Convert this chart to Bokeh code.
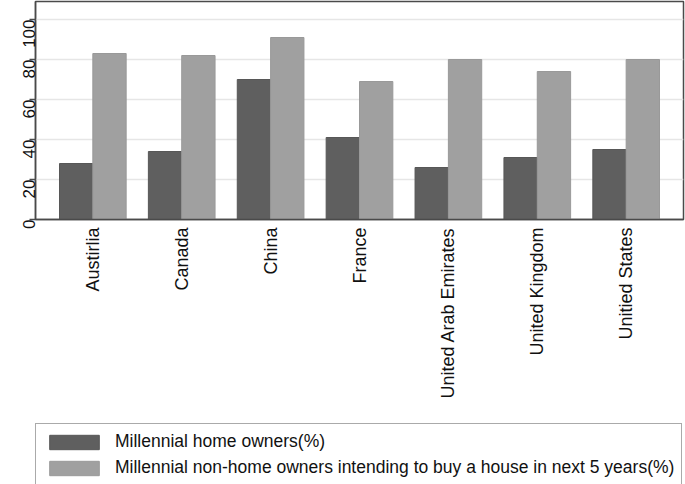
import math
from bokeh.plotting import figure
from bokeh.layouts import column
from bokeh.models import FactorRange, FixedTicker, Range1d, Legend, LegendItem, ColumnDataSource
from bokeh.transform import dodge
from bokeh.embed import file_html
from bokeh.resources import INLINE

countries = ["Austirlia", "Canada", "China", "France", "United Arab Emirates",
             "United Kingdom", "Unitied States"]
home_owners = [28, 34, 70, 41, 26, 31, 35]
intend_to_buy = [83, 82, 91, 69, 80, 74, 80]
y_ticks = [0, 20, 40, 60, 80, 100]
series_names = ["Millennial home owners(%)",
                "Millennial non-home owners intending to buy a house in next 5 years(%)"]

src = ColumnDataSource(dict(country=countries, own=home_owners, buy=intend_to_buy))

FONT = "Liberation Sans"
DARK = "#5f5f5f"
LIGHT = "#a0a0a0"
AX = "#4a4a4a"

p = figure(width=685, height=423, output_backend="svg", toolbar_location=None,
           x_range=FactorRange(factors=countries, range_padding=0.145,
                               range_padding_units="absolute"),
           y_range=Range1d(0, 109),
           min_border_left=29, min_border_right=2, min_border_top=1,
           min_border_bottom=204)

r1 = p.vbar(x=dodge("country", -0.1875, range=p.x_range), top="own", width=0.375,
            source=src, fill_color=DARK, line_color="#575757", line_width=1)
r2 = p.vbar(x=dodge("country", 0.1875, range=p.x_range), top="buy", width=0.375,
            source=src, fill_color=LIGHT, line_color="#999999", line_width=1)

p.outline_line_color = AX
p.outline_line_width = 1.5
p.background_fill_color = "white"
p.border_fill_color = "white"

p.xgrid.grid_line_color = None
p.ygrid.ticker = FixedTicker(ticks=y_ticks[1:])
p.ygrid.grid_line_color = "#e6e6e6"
p.ygrid.grid_line_width = 1.5

ya = p.yaxis[0]
ya.ticker = FixedTicker(ticks=y_ticks)
ya.major_label_orientation = math.pi / 2
ya.major_tick_out = 6
ya.major_tick_in = 0
ya.minor_tick_line_color = None
ya.major_label_standoff = 1
ya.axis_line_color = AX
ya.axis_line_width = 1.5
ya.major_tick_line_color = AX
ya.major_tick_line_width = 1.5
ya.major_label_text_font = FONT
ya.major_label_text_font_size = "17px"
ya.major_label_text_color = "#111111"

xa = p.xaxis[0]
xa.major_label_orientation = math.pi / 2
xa.major_tick_out = 0
xa.major_tick_in = 0
xa.major_tick_line_color = None
xa.major_label_standoff = 8
xa.axis_line_color = AX
xa.axis_line_width = 1.5
xa.major_label_text_font = FONT
xa.major_label_text_font_size = "18px"
xa.major_label_text_color = "#111111"

# legend panel below the chart (swatch renderers hold no visible data)
lg = figure(width=685, height=61, output_backend="svg", toolbar_location=None,
            x_range=Range1d(0, 1), y_range=Range1d(0, 1),
            x_axis_location=None, y_axis_location=None,
            min_border_left=35, min_border_right=0, min_border_top=0, min_border_bottom=0)
lg.outline_line_color = None
lg.xgrid.grid_line_color = None
lg.ygrid.grid_line_color = None
nan = float("nan")
k1 = lg.vbar(x=[nan], top=[nan], width=0.1, fill_color=DARK, line_color="#575757")
k2 = lg.vbar(x=[nan], top=[nan], width=0.1, fill_color=LIGHT, line_color="#999999")

legend = Legend(items=[LegendItem(label=series_names[0], renderers=[k1]),
                       LegendItem(label=series_names[1], renderers=[k2])],
                location="top_left", orientation="vertical",
                glyph_width=62, glyph_height=18, label_standoff=10,
                padding=7, spacing=5, margin=0,
                label_text_font=FONT, label_text_font_size="17.5px",
                label_text_color="#111111", label_height=18,
                border_line_color="#555555", border_line_width=1,
                background_fill_color="white", background_fill_alpha=1)
lg.add_layout(legend, "center")

layout = column(p, lg, spacing=0)
open("out.html", "w").write(file_html(layout, INLINE))
